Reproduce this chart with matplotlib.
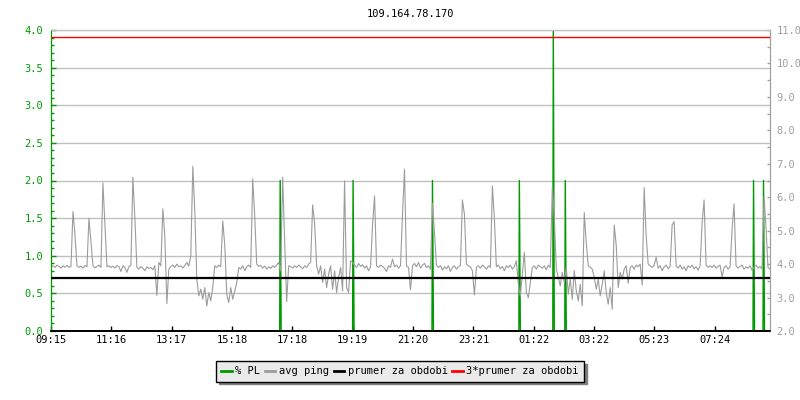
import numpy as np
import matplotlib.pyplot as plt
from matplotlib.ticker import MultipleLocator, FormatStrFormatter

plt.rcParams['font.family'] = 'DejaVu Sans Mono'
plt.rcParams['font.size'] = 7.5

title = '109.164.78.170'

# avg ping [ms], one sample every 4 minutes from 09:15 (one row = 2 hours)
avg_ping = [
    3.92, 3.95, 3.90, 3.97, 3.93, 3.88, 3.95, 3.91, 3.96, 3.90, 3.93, 5.57, 4.87, 3.95, 3.90,
    3.94, 3.88, 3.96, 3.92, 5.37, 4.66, 3.95, 3.89, 3.93, 3.97, 3.90, 6.43, 5.15, 3.92, 3.95,
    3.90, 3.94, 3.88, 3.96, 3.92, 3.78, 3.95, 3.90, 3.75, 3.93, 3.97, 6.60, 5.37, 3.90, 3.85,
    3.93, 3.88, 3.80, 3.92, 3.87, 3.90, 3.83, 3.95, 3.06, 4.05, 3.95, 5.65, 4.82, 2.82, 3.85,
    3.93, 3.97, 3.90, 4.00, 3.92, 3.95, 3.88, 3.96, 4.05, 3.94, 4.25, 6.92, 5.57, 3.55, 3.05,
    3.25, 2.95, 3.30, 2.75, 3.15, 2.90, 3.30, 3.95, 3.90, 3.97, 3.92, 5.29, 4.57, 3.10, 2.85,
    3.30, 2.95, 3.20, 3.45, 3.90, 3.85, 3.95, 3.80, 3.92, 3.97, 3.90, 6.55, 5.44, 4.00, 3.93,
    3.96, 3.88, 3.94, 3.85, 3.92, 3.87, 3.95, 3.90, 3.97, 4.05, 3.80, 6.60, 4.67, 2.88, 3.95,
    3.93, 3.88, 3.95, 3.90, 3.97, 3.92, 3.86, 3.95, 3.90, 4.00, 4.05, 5.77, 5.22, 3.95, 3.70,
    3.95, 3.45, 3.85, 3.30, 3.70, 3.95, 3.25, 3.80, 3.15, 3.60, 3.90, 3.20, 6.49, 3.30, 3.15,
    4.10, 4.05, 3.97, 3.90, 4.02, 3.93, 3.98, 3.88, 3.95, 3.80, 3.92, 5.17, 6.04, 3.95, 3.90,
    3.97, 3.93, 3.87, 3.78, 3.95, 3.90, 4.15, 3.92, 3.97, 3.88, 3.95, 5.49, 6.84, 3.95, 3.90,
    3.23, 3.95, 4.02, 3.92, 4.05, 3.88, 3.97, 4.02, 3.90, 3.95, 3.85, 5.82, 4.93, 3.97, 3.90,
    3.95, 3.82, 3.92, 3.86, 3.95, 3.78, 3.90, 3.95, 3.85, 3.92, 3.97, 5.92, 5.49, 4.00, 3.95,
    3.92, 3.80, 3.08, 3.90, 3.95, 3.88, 3.97, 3.92, 3.85, 3.95, 3.90, 6.34, 5.35, 3.92, 3.97,
    3.86, 3.93, 3.80, 3.95, 3.90, 3.97, 3.85, 3.93, 4.10, 3.40, 3.05, 3.70, 4.35, 3.15, 3.00,
    3.45, 3.90, 3.95, 3.85, 3.97, 3.92, 3.88, 3.95, 3.83, 3.97, 3.90, 6.30, 5.40, 3.85, 3.60,
    3.35, 3.75, 3.45, 3.90, 3.10, 3.55, 2.95, 3.80, 3.20, 2.90, 3.40, 2.75, 5.54, 4.63, 3.95,
    3.90, 3.85, 3.60, 3.25, 3.55, 3.05, 3.40, 3.80, 3.15, 2.80, 3.30, 2.65, 5.17, 4.57, 3.30,
    3.75, 3.55, 3.85, 3.95, 3.43, 3.90, 3.95, 3.85, 3.97, 3.92, 4.00, 3.38, 6.29, 4.85, 4.00,
    3.95, 3.90, 3.97, 4.20, 3.88, 3.95, 3.80, 3.92, 3.97, 3.86, 3.93, 5.17, 5.27, 3.95, 3.88,
    3.97, 3.85, 3.92, 3.80, 3.95, 3.90, 3.97, 3.86, 3.92, 3.82, 3.95, 5.22, 5.92, 3.97, 3.90,
    3.95, 3.90, 3.97, 3.88, 3.93, 3.97, 3.62, 3.90, 3.95, 3.85, 3.92, 5.02, 5.80, 3.95, 3.88,
    3.93, 3.97, 3.85, 3.92, 3.88, 3.95, 3.82, 3.90, 3.97, 3.88, 3.93, 3.85, 6.02, 5.10, 3.90, 3.85,
]
ping_step = 4  # minutes

# packet loss events: minute after 09:15, first and second sample [%]
loss_min = [459, 605, 764, 938, 1006, 1030, 1407, 1427]
loss_first = [2.0, 2.0, 2.0, 2.0, 4.0, 2.0, 2.0, 2.0]
loss_second = [1.0, 1.0, 1.1, 1.0, 2.0, 1.0, 1.0, 1.0]

prumer = 3.595

tick_labels = ['09:15', '11:16', '13:17', '15:18', '17:18', '19:19',
               '21:20', '23:21', '01:22', '03:22', '05:23', '07:24']

GREEN = '#009a00'
GRAY = '#9c9c9c'
AXGRAY = '#a0a0a0'

# time axis in minutes since 09:15
t_ping = np.arange(len(avg_ping)) * ping_step
t_pl = np.arange(0, 1441)
pl = np.zeros(len(t_pl))
for m, a, b in zip(loss_min, loss_first, loss_second):
    pl[m] = a
    pl[m + 1] = b

def minutes_from_start(lbl, start='09:15'):
    h, mi = map(int, lbl.split(':'))
    h0, m0 = map(int, start.split(':'))
    return ((h * 60 + mi) - (h0 * 60 + m0)) % 1440

tick_pos = [minutes_from_start(l) for l in tick_labels]

fig = plt.figure(figsize=(8, 4), dpi=100)
ax = fig.add_axes([51 / 800, 69 / 400, 719 / 800, 301 / 400])
ax2 = ax.twinx()

ax.plot(t_pl, pl, color=GREEN, lw=1.0, zorder=2)
ax2.plot(t_ping, avg_ping, color=GRAY, lw=0.8, zorder=2)
ax2.axhline(prumer, color='black', lw=1.6, zorder=3)
ax2.axhline(3 * prumer, color='#ff0000', lw=1.0, zorder=3)

ax.set_xlim(0, 1440)
ax.set_ylim(0, 4)
ax2.set_ylim(2, 11)

ax.set_xticks(tick_pos)
ax.set_xticklabels(tick_labels)
ax.yaxis.set_major_locator(MultipleLocator(0.5))
ax.yaxis.set_minor_locator(MultipleLocator(0.1))
ax.yaxis.set_major_formatter(FormatStrFormatter('%.1f'))
ax2.yaxis.set_major_locator(MultipleLocator(1))
ax2.yaxis.set_minor_locator(MultipleLocator(0.5))
ax2.yaxis.set_major_formatter(FormatStrFormatter('%.1f'))

ax.grid(axis='y', which='major', color='#c0c0c0', lw=1.0)
ax.set_axisbelow(True)

ax.tick_params(axis='y', which='major', direction='in', length=3.6, width=1,
               color=GREEN, labelcolor=GREEN, pad=5.5)
ax.tick_params(axis='y', which='minor', direction='in', length=2.2, width=1, color=GREEN)
ax.tick_params(axis='x', direction='in', length=3.6, width=1, color='black', pad=3)
ax2.tick_params(axis='y', which='both', direction='in', length=2.4, width=1,
                color=AXGRAY, labelcolor=AXGRAY, pad=4.5)

for a in (ax, ax2):
    a.spines['top'].set_color('#c0c0c0')
    a.spines['left'].set_color(GREEN)
    a.spines['right'].set_color(AXGRAY)
    a.spines['bottom'].set_color('black')
    a.spines['bottom'].set_linewidth(1.2)

fig.text((51 + 770) / 2 / 800, 1 - 14 / 400, title, ha='center', va='center')

handles = [plt.Line2D([], [], color=c, lw=2) for c in (GREEN, GRAY, 'black', '#ff0000')]
leg = fig.legend(handles, ['% PL', 'avg ping', 'prumer za obdobi', '3*prumer za obdobi'],
                 loc='center', bbox_to_anchor=(0.5, 1 - 371.5 / 400), ncol=4,
                 handlelength=1.0, handletextpad=0.35, columnspacing=0.45,
                 borderpad=0.5, fancybox=False, framealpha=1, edgecolor='black',
                 facecolor='#eaeaea',
                 shadow={'facecolor': '#808080', 'edgecolor': '#808080', 'alpha': 1})
leg.get_frame().set_linewidth(1.0)

fig.savefig('out.png', dpi=100)
